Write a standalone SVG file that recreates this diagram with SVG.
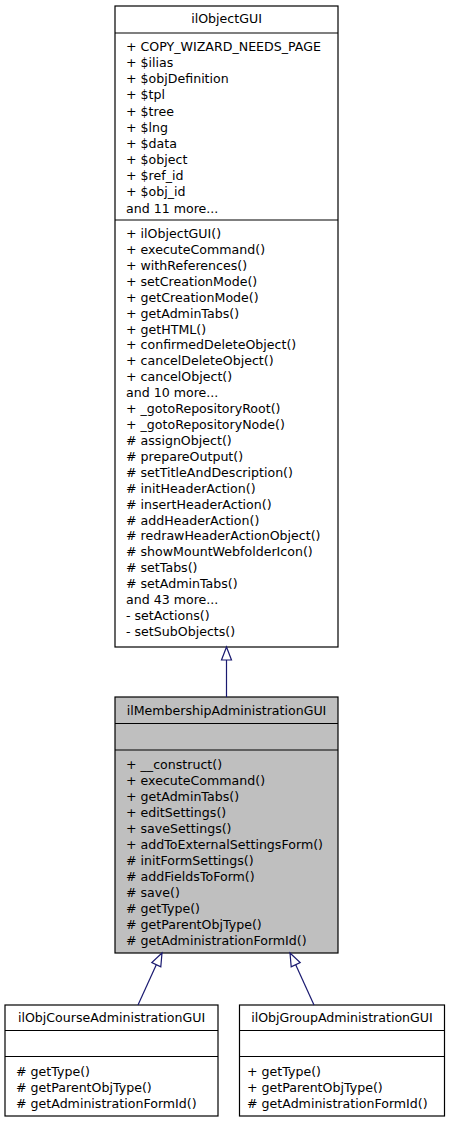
<svg xmlns="http://www.w3.org/2000/svg" width="451" height="1123" viewBox="0 0 451 1123">
<style>
text{font-family:"DejaVu Sans","Liberation Sans",sans-serif;font-size:12.6px;fill:#000}
.c{text-anchor:middle}
.box{fill:#fff;stroke:#000;stroke-width:1.2}
.cur{fill:#bfbfbf;stroke:#000;stroke-width:1.2}
.sep{stroke:#000;stroke-width:1.2}
.edge{stroke:#191970;stroke-width:1.2;fill:none}
.head{stroke:#191970;stroke-width:1.2;fill:#fff}
</style>
<rect x="0" y="0" width="451" height="1123" fill="#fff"/>
<g id="ilObjectGUI">
<rect class="box" x="115" y="6" width="223" height="641"/>
<text class="c" x="226.5" y="23">ilObjectGUI</text>
<line class="sep" x1="115" y1="33" x2="338" y2="33"/>
<text x="126" y="51">+ COPY_WIZARD_NEEDS_PAGE</text>
<text x="126" y="67.15">+ $ilias</text>
<text x="126" y="83.3">+ $objDefinition</text>
<text x="126" y="99.45">+ $tpl</text>
<text x="126" y="115.6">+ $tree</text>
<text x="126" y="131.75">+ $lng</text>
<text x="126" y="147.9">+ $data</text>
<text x="126" y="164.05">+ $object</text>
<text x="126" y="180.2">+ $ref_id</text>
<text x="126" y="196.35">+ $obj_id</text>
<text x="126" y="212.5">and 11 more...</text>
<line class="sep" x1="115" y1="220" x2="338" y2="220"/>
<text x="126" y="238">+ ilObjectGUI()</text>
<text x="126" y="253.92">+ executeCommand()</text>
<text x="126" y="269.84">+ withReferences()</text>
<text x="126" y="285.76">+ setCreationMode()</text>
<text x="126" y="301.68">+ getCreationMode()</text>
<text x="126" y="317.6">+ getAdminTabs()</text>
<text x="126" y="333.52">+ getHTML()</text>
<text x="126" y="349.44">+ confirmedDeleteObject()</text>
<text x="126" y="365.36">+ cancelDeleteObject()</text>
<text x="126" y="381.28">+ cancelObject()</text>
<text x="126" y="397.2">and 10 more...</text>
<text x="126" y="413.12">+ _gotoRepositoryRoot()</text>
<text x="126" y="429.04">+ _gotoRepositoryNode()</text>
<text x="126" y="444.96"># assignObject()</text>
<text x="126" y="460.88"># prepareOutput()</text>
<text x="126" y="476.8"># setTitleAndDescription()</text>
<text x="126" y="492.72"># initHeaderAction()</text>
<text x="126" y="508.64"># insertHeaderAction()</text>
<text x="126" y="524.56"># addHeaderAction()</text>
<text x="126" y="540.48"># redrawHeaderActionObject()</text>
<text x="126" y="556.4"># showMountWebfolderIcon()</text>
<text x="126" y="572.32"># setTabs()</text>
<text x="126" y="588.24"># setAdminTabs()</text>
<text x="126" y="604.16">and 43 more...</text>
<text x="126" y="620.08">- setActions()</text>
<text x="126" y="636">- setSubObjects()</text>
</g>
<g id="ilMembershipAdministrationGUI">
<rect class="cur" x="115" y="697" width="223" height="256"/>
<text class="c" x="226.5" y="715">ilMembershipAdministrationGUI</text>
<line class="sep" x1="115" y1="723.5" x2="338" y2="723.5"/>
<line class="sep" x1="115" y1="750" x2="338" y2="750"/>
<text x="126" y="768.5">+ __construct()</text>
<text x="126" y="784.5">+ executeCommand()</text>
<text x="126" y="800.5">+ getAdminTabs()</text>
<text x="126" y="816.5">+ editSettings()</text>
<text x="126" y="832.5">+ saveSettings()</text>
<text x="126" y="848.5">+ addToExternalSettingsForm()</text>
<text x="126" y="864.5"># initFormSettings()</text>
<text x="126" y="880.5"># addFieldsToForm()</text>
<text x="126" y="896.5"># save()</text>
<text x="126" y="912.5"># getType()</text>
<text x="126" y="928.5"># getParentObjType()</text>
<text x="126" y="944.5"># getAdministrationFormId()</text>
</g>
<g id="ilObjCourseAdministrationGUI">
<rect class="box" x="5" y="1005" width="213" height="111"/>
<text class="c" x="111.5" y="1022">ilObjCourseAdministrationGUI</text>
<line class="sep" x1="5" y1="1030.5" x2="218" y2="1030.5"/>
<line class="sep" x1="5" y1="1056.5" x2="218" y2="1056.5"/>
<text x="16" y="1075.5"># getType()</text>
<text x="16" y="1091.5"># getParentObjType()</text>
<text x="16" y="1107.5"># getAdministrationFormId()</text>
</g>
<g id="ilObjGroupAdministrationGUI">
<rect class="box" x="239.5" y="1005" width="205" height="111"/>
<text class="c" x="342" y="1022">ilObjGroupAdministrationGUI</text>
<line class="sep" x1="239.5" y1="1030.5" x2="444.5" y2="1030.5"/>
<line class="sep" x1="239.5" y1="1056.5" x2="444.5" y2="1056.5"/>
<text x="247" y="1075.5">+ getType()</text>
<text x="247" y="1091.5">+ getParentObjType()</text>
<text x="247" y="1107.5"># getAdministrationFormId()</text>
</g>
<g id="connectors">
<line class="edge" x1="226.5" y1="697" x2="226.5" y2="660"/>
<polygon class="head" points="226.5,647 221.5,660 231.5,660"/>
<line class="edge" x1="138" y1="1005" x2="156.3" y2="964.7"/>
<polygon class="head" points="162,953 151.8,962.5 160.8,966.9"/>
<line class="edge" x1="314" y1="1005" x2="295.7" y2="964.7"/>
<polygon class="head" points="290,953 300.2,962.5 291.2,966.9"/>
</g>
</svg>
